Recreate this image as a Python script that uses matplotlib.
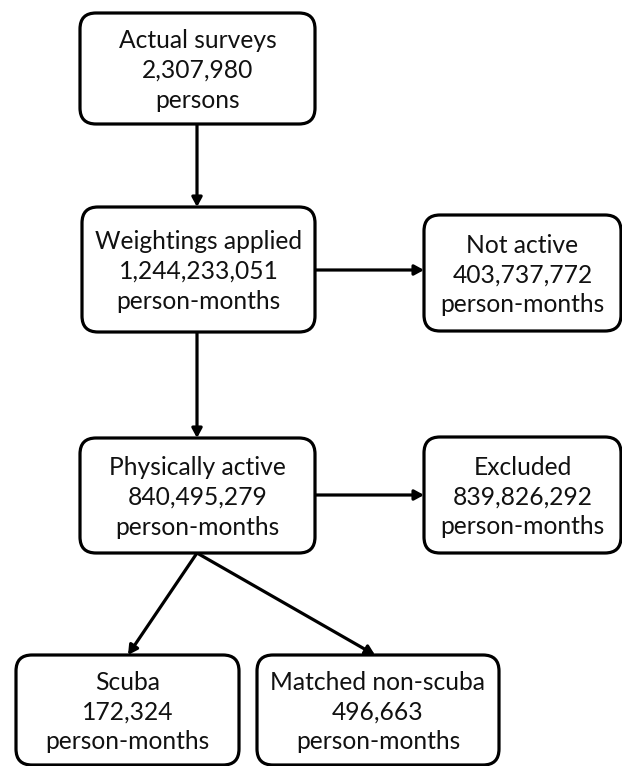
import matplotlib.pyplot as plt
from matplotlib.patches import FancyBboxPatch

# Flowchart content
titles = ['Actual surveys', 'Weightings applied', 'Not active', 'Physically active',
          'Excluded', 'Scuba', 'Matched non-scuba']
counts = [2307980, 1244233051, 403737772, 840495279, 839826292, 172324, 496663]
units = ['persons', 'person-months', 'person-months', 'person-months',
         'person-months', 'person-months', 'person-months']

# Layout in pixel coordinates (left, top, right, bottom)
boxes = [(80, 13, 315, 124), (82, 207, 315, 332), (424, 215, 621, 331),
         (80, 438, 315, 553), (424, 437, 621, 553), (16, 655, 239, 765),
         (257, 655, 499, 765)]
# arrows: (start, end)
arrows = [((197, 124), (197, 207)),
          ((315, 270), (424, 270)),
          ((197, 332), (197, 438)),
          ((315, 495), (424, 495)),
          ((197, 553), (128, 655)),
          ((197, 553), (375, 655))]

fig = plt.figure(figsize=(6.22, 7.66), dpi=100)
ax = fig.add_axes([0, 0, 1, 1])
ax.set_xlim(0, 622)
ax.set_ylim(766, 0)
ax.axis('off')

for (l, t, r, b), title, n, unit in zip(boxes, titles, counts, units):
    patch = FancyBboxPatch((l, t), r - l, b - t,
                           boxstyle='round,pad=0,rounding_size=16',
                           facecolor='white', edgecolor='black', linewidth=2.3,
                           zorder=2)
    ax.add_patch(patch)
    ax.text((l + r) / 2, (t + b) / 2 + 2, f'{title}\n{n:,}\n{unit}',
            ha='center', va='center', fontsize=17.7, family='Lato',
            color='#111111', linespacing=1.36, zorder=3)

for (x0, y0), (x1, y1) in arrows:
    ax.annotate('', xy=(x1, y1), xytext=(x0, y0),
                arrowprops=dict(arrowstyle='-|>,head_length=0.55,head_width=0.3',
                                color='black', lw=2.3, shrinkA=0, shrinkB=0),
                zorder=1)

fig.savefig('out.png', dpi=100)
